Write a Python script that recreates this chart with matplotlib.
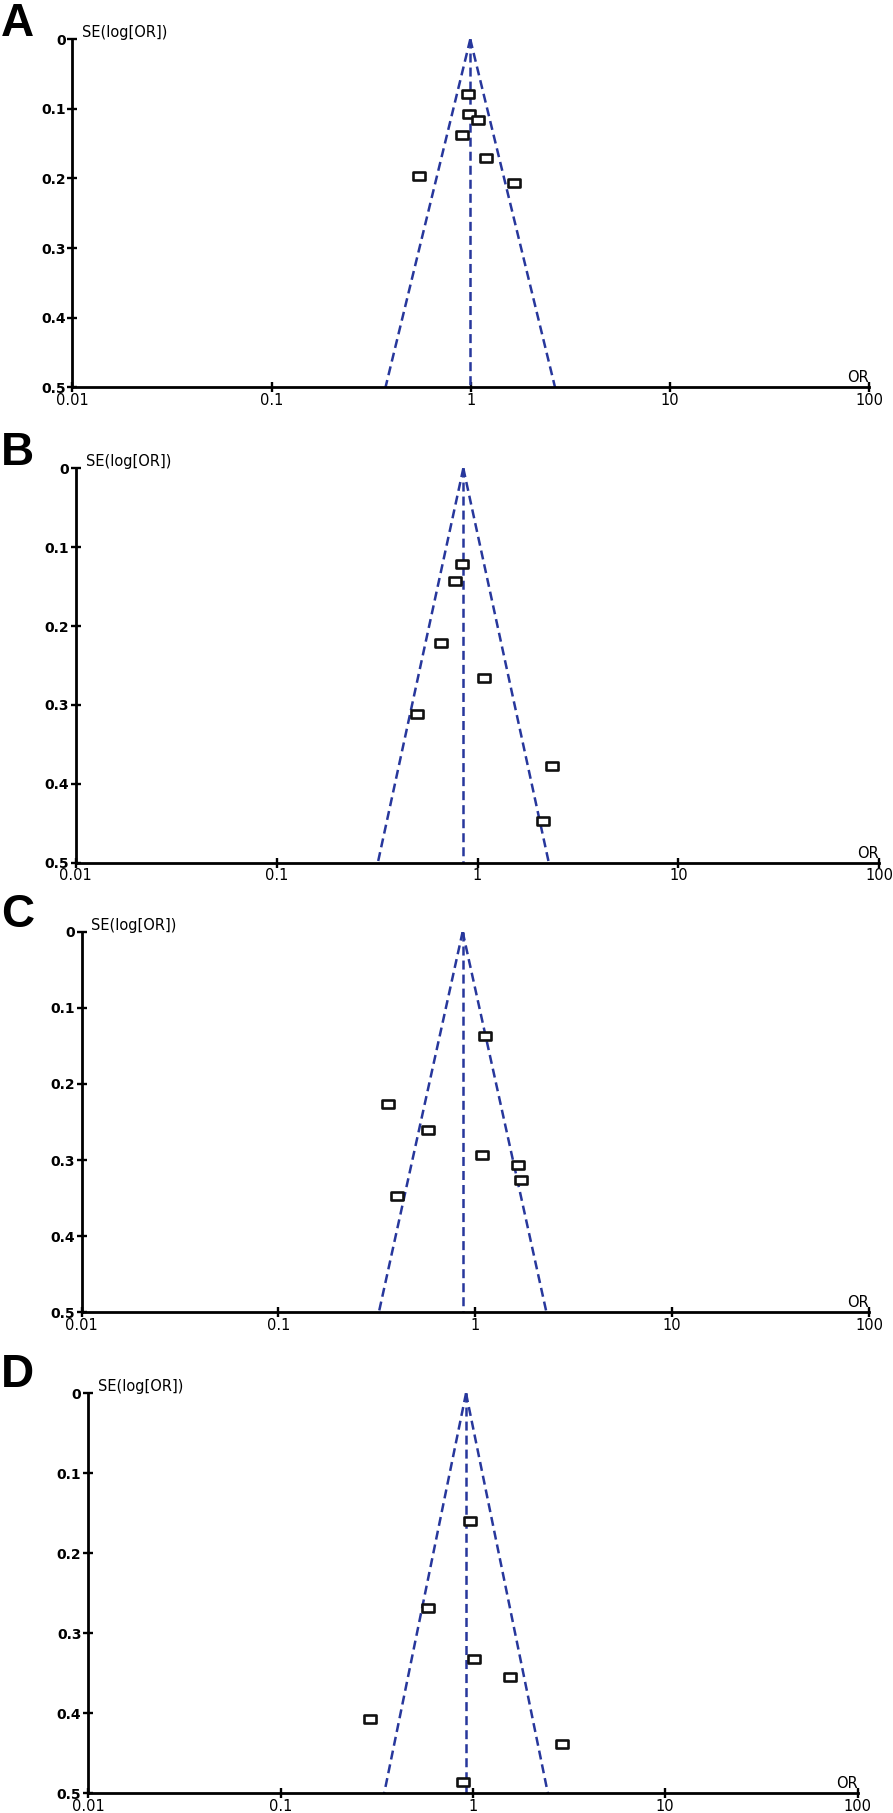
import numpy as np
import matplotlib
matplotlib.use('Agg')
import matplotlib.pyplot as plt
from matplotlib.path import Path
from matplotlib.markers import MarkerStyle
import matplotlib.transforms as mtransforms

# ---------------- data ----------------
panel_labels = ['A', 'B', 'C', 'D']
pooled_or = [0.995, 0.850, 0.863, 0.921]

or_A = [0.969, 0.977, 1.088, 0.905, 1.198, 0.548, 1.644]
se_A = [0.078, 0.108, 0.116, 0.137, 0.170, 0.196, 0.206]
or_B = [0.837, 0.770, 0.661, 1.074, 0.500, 2.35, 2.13]
se_B = [0.121, 0.143, 0.221, 0.266, 0.312, 0.378, 0.447]
or_C = [1.12, 0.360, 0.573, 1.085, 1.647, 1.70, 0.399]
se_C = [0.137, 0.226, 0.260, 0.293, 0.306, 0.326, 0.347]
or_D = [0.969, 0.586, 1.013, 1.56, 0.291, 2.91, 0.888]
se_D = [0.160, 0.269, 0.332, 0.355, 0.407, 0.439, 0.486]

x_ticks = [0.01, 0.1, 1, 10, 100]
x_tick_labels = ['0.01', '0.1', '1', '10', '100']
y_ticks = [0, 0.1, 0.2, 0.3, 0.4, 0.5]
y_tick_labels = ['0', '0.1', '0.2', '0.3', '0.4', '0.5']
y_label = 'SE(log[OR])'
x_label = 'OR'

# ---------------- layout (pixels) ----------------
W, H = 893, 1813
# left, right, top (SE=0), bottom (SE=0.5)
boxes = [
    (72.4, 869.0, 39.3, 387.3),
    (75.8, 879.2, 468.3, 862.7),
    (81.5, 869.0, 931.7, 1312.3),
    (88.3, 857.5, 1393.3, 1793.3),
]
letter_baselines = [36, 465, 927, 1387]

BLUE = '#27379c'
plt.rcParams['lines.scale_dashes'] = False

fig = plt.figure(figsize=(W / 100, H / 100), dpi=100)
fig.patch.set_facecolor('white')

rect = Path([(-1, -0.6), (1, -0.6), (1, 0.6), (-1, 0.6), (-1, -0.6)],
            [Path.MOVETO, Path.LINETO, Path.LINETO, Path.LINETO, Path.CLOSEPOLY])
mstyle = MarkerStyle(rect, joinstyle='miter')

data = [(or_A, se_A), (or_B, se_B), (or_C, se_C), (or_D, se_D)]

for i, (lab, pooled, (ors, ses), box) in enumerate(zip(panel_labels, pooled_or, data, boxes)):
    L, R, T, B = box
    ax = fig.add_axes([L / W, 1 - B / H, (R - L) / W, (B - T) / H])
    ax.patch.set_alpha(0)
    ax.set_xscale('log')
    ax.set_xlim(0.01, 100)
    ax.set_ylim(0.5, 0)

    # funnel
    se_line = np.array([0.0, 0.5])
    lo = pooled * np.exp(-1.96 * se_line)
    hi = pooled * np.exp(1.96 * se_line)
    dash = (0, (6.5, 3.6))
    ax.plot(lo, se_line, color=BLUE, lw=1.8, linestyle=dash, zorder=2)
    ax.plot(hi, se_line, color=BLUE, lw=1.8, linestyle=dash, zorder=2)
    ax.plot([pooled, pooled], [0, 0.5], color=BLUE, lw=1.8, linestyle=dash, zorder=2)

    # studies
    ax.plot(ors, ses, linestyle='none', marker=mstyle, markersize=8.6,
            markerfacecolor='white', markeredgecolor='#111111', markeredgewidth=1.9,
            zorder=4, clip_on=False)

    for s in ['top', 'right']:
        ax.spines[s].set_visible(False)
    for s in ['left', 'bottom']:
        ax.spines[s].set_linewidth(2.0)
        ax.spines[s].set_color('black')

    ax.set_xticks(x_ticks)
    ax.set_xticklabels(x_tick_labels)
    ax.xaxis.set_minor_locator(matplotlib.ticker.NullLocator())
    ax.set_yticks(y_ticks)
    ax.set_yticklabels(y_tick_labels)
    ax.tick_params(axis='both', direction='inout', length=7.5, width=1.7, color='black')
    ax.tick_params(axis='x', pad=0.3)
    ax.tick_params(axis='y', pad=1.2)
    for t in ax.get_xticklabels():
        t.set_fontfamily('DejaVu Sans')
        t.set_fontsize(10.5)
    for t in ax.get_yticklabels():
        t.set_fontfamily('DejaVu Sans')
        t.set_fontsize(10)
        t.set_fontweight('bold')

    # axis titles
    off_se = mtransforms.offset_copy(ax.transAxes, fig=fig, x=7.0, y=1.5, units='points')
    ax.text(0, 1, y_label, transform=off_se, ha='left', va='baseline',
            fontsize=10.5, family='DejaVu Sans', color='black')
    off_or = mtransforms.offset_copy(ax.transAxes, fig=fig, x=0, y=1.5, units='points')
    ax.text(1, 0, x_label, transform=off_or, ha='right', va='bottom',
            fontsize=10.5, family='DejaVu Sans', color='black')

    fig.text(1 / W, 1 - letter_baselines[i] / H, lab, ha='left', va='baseline',
             fontsize=33, fontweight='bold', family='Liberation Sans')

fig.savefig('out.png', dpi=100, facecolor='white')
